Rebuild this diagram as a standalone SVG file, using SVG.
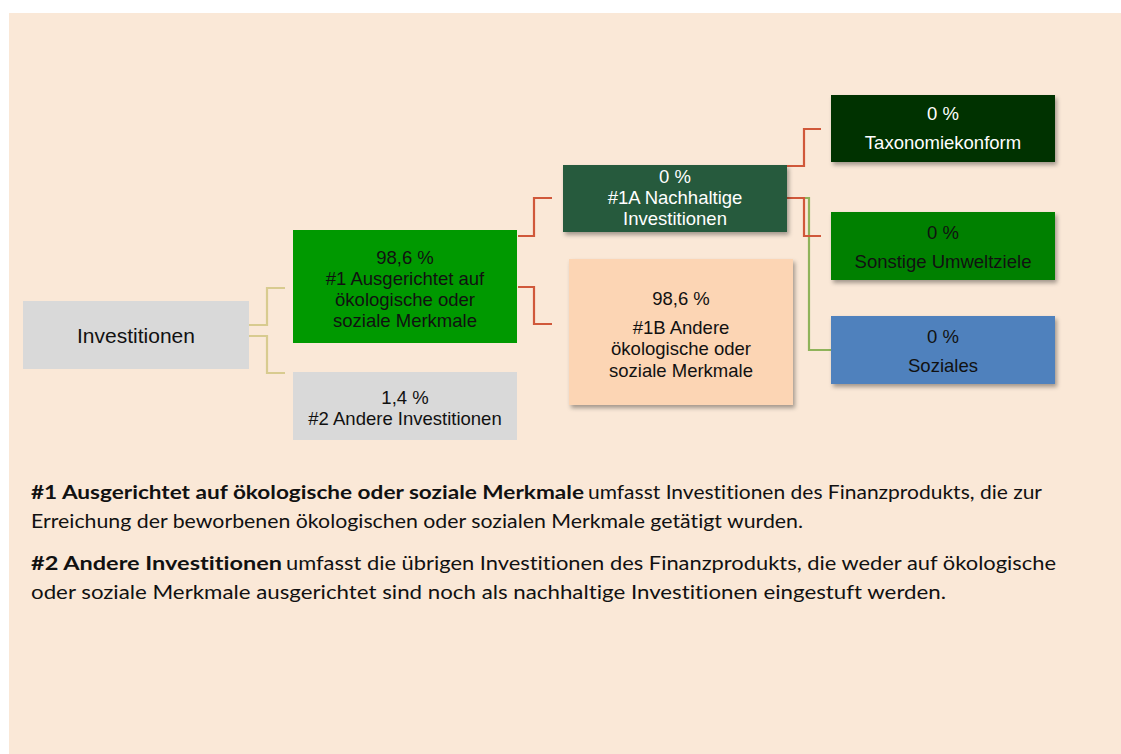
<svg xmlns="http://www.w3.org/2000/svg" width="1121" height="754" viewBox="0 0 1121 754">
<defs>
<filter id="sh" x="-10%" y="-10%" width="125%" height="130%">
<feDropShadow dx="2" dy="3" stdDeviation="2" flood-color="#000" flood-opacity="0.35"/>
</filter>
<style>
.box text{font-family:"Liberation Sans",Arial,sans-serif;font-size:18.5px;text-anchor:middle}
.w{fill:#fff}
.k{fill:#111}
.con path{fill:none;stroke-width:2.2}
.tan{stroke:#D8CB8F}
.red{stroke:#D0583A}
.grn{stroke:#8FB35A}
.para{font-family:Lato,"Open Sans",sans-serif;font-size:18.5px;fill:#111;font-variant-ligatures:none}
.b{font-weight:bold}
</style>
</defs>
<rect x="0" y="0" width="1121" height="754" fill="#fff"/>
<rect x="9" y="13" width="1112" height="741" fill="#FAE8D7"/>

<g id="connectors" class="con">
<path class="tan" d="M249,325 H267 V288 H285"/>
<path class="tan" d="M249,336 H267 V373 H285"/>
<path class="red" d="M518,236 H534 V198 H552"/>
<path class="red" d="M518,287 H534 V324 H552"/>
<path class="grn" d="M800,198 H809 V350 H831"/>
<path class="red" d="M787,166 H804 V129 H821"/>
<path class="red" d="M787,198 H804 V236 H821"/>
</g>

<g id="investitionen" class="box">
<rect x="23" y="301" width="226" height="68" fill="#D9D9D9"/>
<text x="136" y="343" class="k" style="font-size:21px">Investitionen</text>
</g>

<g id="n1" class="box">
<rect x="293" y="230" width="224" height="113" fill="#009900"/>
<text class="k" x="405" y="264">98,6 %</text>
<text class="k" x="405" y="285">#1 Ausgerichtet auf</text>
<text class="k" x="405" y="306">ökologische oder</text>
<text class="k" x="405" y="327">soziale Merkmale</text>
</g>

<g id="n2" class="box">
<rect x="293" y="372" width="224" height="68" fill="#D9D9D9"/>
<text class="k" x="405" y="404">1,4 %</text>
<text class="k" x="405" y="425">#2 Andere Investitionen</text>
</g>

<g id="n1a" class="box">
<rect x="563" y="165" width="224" height="67" fill="#255A3C" filter="url(#sh)"/>
<text class="w" x="675" y="183">0 %</text>
<text class="w" x="675" y="204">#1A Nachhaltige</text>
<text class="w" x="675" y="225">Investitionen</text>
</g>

<g id="n1b" class="box">
<rect x="569" y="259" width="224" height="146" fill="#FCD5B4" filter="url(#sh)"/>
<text class="k" x="681" y="305">98,6 %</text>
<text class="k" x="681" y="334">#1B Andere</text>
<text class="k" x="681" y="355">ökologische oder</text>
<text class="k" x="681" y="377">soziale Merkmale</text>
</g>

<g id="taxo" class="box">
<rect x="831" y="95" width="224" height="67" fill="#003300" filter="url(#sh)"/>
<text class="w" x="943" y="120">0 %</text>
<text class="w" x="943" y="149">Taxonomiekonform</text>
</g>

<g id="sonstige" class="box">
<rect x="831" y="212" width="224" height="68" fill="#008000" filter="url(#sh)"/>
<text class="k" x="943" y="239">0 %</text>
<text class="k" x="943" y="268">Sonstige Umweltziele</text>
</g>

<g id="soziales" class="box">
<rect x="831" y="316" width="224" height="68" fill="#4F81BD" filter="url(#sh)"/>
<text class="k" x="943" y="343">0 %</text>
<text class="k" x="943" y="372">Soziales</text>
</g>

<g id="legend">
<text class="para b" x="31" y="499" textLength="553" lengthAdjust="spacingAndGlyphs">#1 Ausgerichtet auf ökologische oder soziale Merkmale</text>
<text class="para" x="588" y="499" textLength="454" lengthAdjust="spacingAndGlyphs">umfasst Investitionen des Finanzprodukts, die zur</text>
<text class="para" x="31" y="528" textLength="772" lengthAdjust="spacingAndGlyphs">Erreichung der beworbenen ökologischen oder sozialen Merkmale getätigt wurden.</text>
<text class="para b" x="31" y="570" textLength="251" lengthAdjust="spacingAndGlyphs">#2 Andere Investitionen</text>
<text class="para" x="286" y="570" textLength="770" lengthAdjust="spacingAndGlyphs">umfasst die übrigen Investitionen des Finanzprodukts, die weder auf ökologische</text>
<text class="para" x="31" y="599" textLength="915" lengthAdjust="spacingAndGlyphs">oder soziale Merkmale ausgerichtet sind noch als nachhaltige Investitionen eingestuft werden.</text>
</g>
</svg>
